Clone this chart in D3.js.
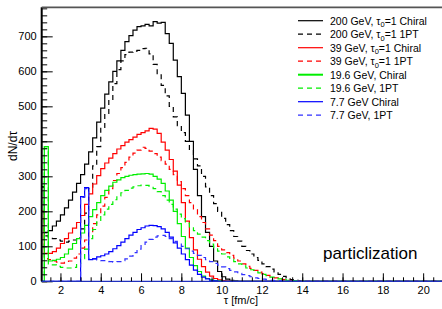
<!DOCTYPE html>
<html>
<head>
<meta charset="utf-8">
<script src="https://cdn.jsdelivr.net/npm/d3@7"></script>
<style>
  body { margin: 0; background: #fff; }
  svg { display: block; font-family: "Liberation Sans", Arial, sans-serif; }
</style>
</head>
<body>
<div id="chart"></div>
<script>
// histogram bins: lower edge of first bin and width, in fm/c
const binStart = 1.0
const binWidth = 0.2

const chiral200 = [270, 140, 145, 158, 172, 190, 210, 232, 255, 280, 305, 335, 370, 410, 455, 495, 535, 570, 600, 630,
  660, 685, 702, 718, 728, 730, 734, 730, 742, 738, 740, 708, 680, 632, 585, 537, 475, 400, 320, 245,
  185, 140, 100, 58, 28, 13, 6, 3, 1]
const pt200 = [270, 130, 125, 122, 118, 115, 112, 115, 118, 125, 150, 195, 265, 330, 385, 440, 480, 520, 565, 605,
  630, 648, 655, 658, 660, 665, 666, 650, 620, 590, 560, 530, 500, 470, 445, 425, 400, 375, 350, 330,
  300, 270, 245, 222, 200, 180, 162, 145, 128, 115, 100, 88, 78, 68, 60, 50, 42, 35, 27, 20,
  14, 9, 5, 3, 1]
const chiral39 = [200, 80, 80, 85, 95, 108, 122, 138, 152, 168, 188, 220, 250, 278, 302, 322, 338, 352, 365, 378,
  388, 398, 405, 412, 420, 425, 430, 437, 435, 423, 398, 375, 348, 315, 275, 225, 172, 125, 90, 63,
  42, 26, 15, 8, 4, 2, 1]
const pt39 = [200, 65, 62, 58, 55, 52, 54, 58, 66, 78, 95, 118, 142, 165, 190, 215, 240, 265, 288, 308,
  325, 340, 355, 366, 375, 383, 380, 372, 365, 355, 345, 335, 320, 305, 285, 265, 245, 225, 205, 185,
  168, 150, 132, 116, 100, 90, 82, 74, 66, 58, 50, 43, 37, 31, 26, 21, 17, 13, 10, 7,
  5, 3, 2, 1]
const chiral19 = [0, 385, 58, 60, 63, 68, 78, 92, 108, 122, 138, 160, 185, 205, 225, 245, 260, 272, 283, 290,
  296, 300, 303, 305, 306, 307, 308, 306, 300, 292, 280, 258, 232, 200, 165, 128, 95, 68, 45, 28,
  15, 8, 4, 2, 1]
const pt19 = [0, 380, 50, 47, 43, 40, 38, 38, 40, 48, 65, 92, 122, 148, 170, 190, 206, 220, 233, 244,
  253, 260, 266, 270, 273, 275, 274, 271, 265, 256, 245, 232, 220, 206, 192, 179, 166, 155, 145, 135,
  126, 116, 106, 96, 86, 78, 70, 63, 56, 50, 44, 38, 33, 28, 24, 20, 16, 12, 9, 7,
  5, 3, 2, 1]
const chiral7 = [0, 0, 0, 0, 0, 0, 0, 0, 0, 0, 242, 268, 62, 65, 70, 73, 78, 85, 93, 102,
  112, 122, 132, 140, 148, 153, 158, 160, 159, 156, 150, 140, 126, 110, 95, 78, 62, 46, 32, 20,
  12, 7, 3, 1]
const pt7 = [0, 0, 0, 0, 0, 0, 0, 0, 0, 0, 240, 265, 65, 63, 61, 59, 57, 56, 55, 56,
  59, 64, 72, 82, 92, 102, 112, 120, 126, 130, 131, 128, 122, 114, 106, 100, 93, 86, 80, 74,
  68, 62, 56, 51, 46, 41, 36, 31, 27, 23, 19, 16, 13, 10, 8, 6, 4, 3, 2, 1]

const seriesValues = [chiral200, pt200, chiral39, pt39, chiral19, pt19, chiral7, pt7]
const seriesNames = [
  ['200 GeV, τ', '0', '=1 Chiral'],
  ['200 GeV, τ', '0', '=1 1PT'],
  ['39 GeV, τ', '0', '=1 Chiral'],
  ['39 GeV, τ', '0', '=1 1PT'],
  ['19.6 GeV, Chiral'],
  ['19.6 GeV, 1PT'],
  ['7.7 GeV Chiral'],
  ['7.7 GeV, 1PT']
]
const seriesColors = ['#000000', '#000000', '#ff0000', '#ff0000', '#00ee00', '#00ee00', '#0000ff', '#3030ff']
const seriesDashed = [false, true, false, true, false, true, false, true]

const yTicks = [0, 100, 200, 300, 400, 500, 600, 700]
const xTicks = [2, 4, 6, 8, 10, 12, 14, 16, 18, 20]

const width = 442
const height = 309
const plotLeft = 41.7, plotRight = 443.3, plotTop = 7.3, plotBottom = 281.3

const x = d3.scaleLinear().domain([1.07, 21.0]).range([plotLeft, plotRight])
const y = d3.scaleLinear().domain([0, 783]).range([plotBottom, plotTop])

const svg = d3.select('#chart')
  .append('svg')
  .attr('width', width)
  .attr('height', height)

svg.append('clipPath')
  .attr('id', 'plot')
  .append('rect')
  .attr('x', plotLeft)
  .attr('y', 0)
  .attr('width', plotRight - plotLeft)
  .attr('height', plotBottom + 1)

// histograms as step lines
const line = d3.line()
  .x(d => x(d[0]))
  .y(d => y(d[1]))
  .curve(d3.curveStepAfter)

const hists = svg.append('g').attr('clip-path', 'url(#plot)')

seriesValues.forEach((vals, i) => {
  const pts = vals.map((v, k) => [binStart + k * binWidth, v])
  pts.push([binStart + vals.length * binWidth, 0])
  pts.push([x.domain()[1] + 1, 0])
  hists.append('path')
    .attr('d', line(pts))
    .attr('fill', 'none')
    .attr('stroke', seriesColors[i])
    .attr('stroke-width', 1.2)
    .attr('stroke-dasharray', seriesDashed[i] ? '5,4' : null)
})

// y axis, ticks inside
const yAxis = svg.append('g')
  .attr('transform', `translate(${plotLeft},0)`)
  .call(d3.axisLeft(y).tickValues(yTicks).tickSize(-11).tickPadding(5))
svg.append('g')
  .attr('transform', `translate(${plotLeft},0)`)
  .call(d3.axisLeft(y).tickValues(d3.range(0, 781, 20)).tickSize(-5.5).tickFormat(''))
  .call(g => g.select('.domain').remove())

// x axis
const xAxis = svg.append('g')
  .attr('transform', `translate(0,${plotBottom})`)
  .call(d3.axisBottom(x).tickValues(xTicks).tickSize(-8).tickPadding(5))
svg.append('g')
  .attr('transform', `translate(0,${plotBottom})`)
  .call(d3.axisBottom(x).tickValues(d3.range(1.5, 21, 0.5)).tickSize(-4).tickFormat(''))
  .call(g => g.select('.domain').remove())

svg.selectAll('.tick line').attr('stroke', '#000').attr('stroke-width', 1)
svg.selectAll('.tick text')
  .attr('font-size', 11)
  .attr('font-family', '"Liberation Sans", Arial, sans-serif')
  .attr('fill', '#000')
yAxis.select('.domain').attr('stroke-width', 2).attr('d', `M0,${plotBottom}V${plotTop}`)
xAxis.select('.domain').attr('stroke-width', 1.2).attr('stroke', '#2030c0').attr('d', `M${plotLeft},0H${plotRight}`)

// top frame line
svg.append('line')
  .attr('x1', plotLeft).attr('x2', width)
  .attr('y1', plotTop).attr('y2', plotTop)
  .attr('stroke', '#555')
  .attr('stroke-width', 1.8)

// axis titles
svg.append('text')
  .attr('transform', 'translate(17,146) rotate(-90)')
  .attr('text-anchor', 'middle')
  .attr('font-size', 12)
  .text('dN/dτ')

svg.append('text')
  .attr('x', 241)
  .attr('y', 304)
  .attr('text-anchor', 'middle')
  .attr('font-size', 11)
  .text('τ  [fm/c]')

svg.append('text')
  .attr('x', 323)
  .attr('y', 259)
  .attr('font-size', 17)
  .text('particlization')

// legend
const legend = svg.append('g')
seriesNames.forEach((parts, i) => {
  const yy = 20.7 + i * 13.5
  legend.append('line')
    .attr('x1', 298).attr('x2', 323)
    .attr('y1', yy).attr('y2', yy)
    .attr('stroke', seriesColors[i])
    .attr('stroke-width', i === 4 ? 2 : 1.2)
    .attr('stroke-dasharray', seriesDashed[i] ? '5,4' : null)
  const t = legend.append('text')
    .attr('x', 330)
    .attr('y', yy + 4)
    .attr('font-size', 10.5)
  t.append('tspan').text(parts[0])
  if (parts.length > 1) {
    t.append('tspan').attr('font-size', 7.5).attr('dy', 2.5).text(parts[1])
    t.append('tspan').attr('dy', -2.5).text(parts[2])
  }
})
</script>
</body>
</html>
